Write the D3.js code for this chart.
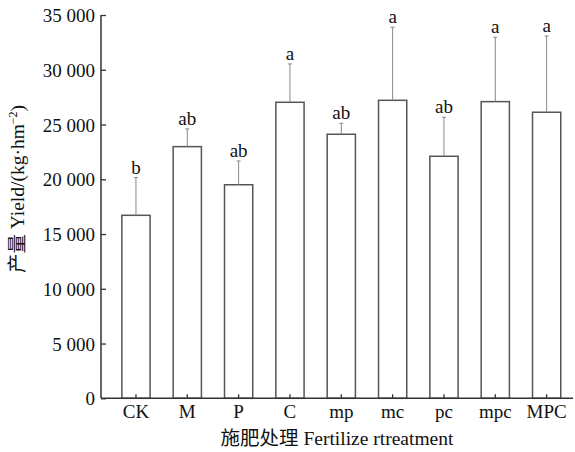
<!DOCTYPE html>
<html>
<head>
<meta charset="utf-8">
<script src="https://cdn.jsdelivr.net/npm/d3@7"></script>
<style>
  body { margin: 0; background: #fff; }
  text { font-family: "Liberation Serif", "Times New Roman", "Noto Sans CJK SC", serif; fill: #111; }
</style>
</head>
<body>
<svg id="chart" width="575" height="452"></svg>
<script>
var treatments = ["CK", "M", "P", "C", "mp", "mc", "pc", "mpc", "MPC"];
var yieldVals  = [16710, 22980, 19500, 27030, 24110, 27210, 22100, 27090, 26120];
var errTops    = [20150, 24600, 21670, 30530, 25110, 33880, 25660, 32970, 33080];
var sigLetters = ["b", "ab", "ab", "a", "ab", "a", "ab", "a", "a"];
var yTickVals  = [0, 5000, 10000, 15000, 20000, 25000, 30000, 35000];

var AXIS_COL = "#333";
var BAR_COL = "#555";
var ERR_COL = "#888";
var FONT_SZE = "19px";
var TITLE_SZE = "19.5px";

var svg = d3.select("#chart");
var plotL = 101, plotR = 573, plotT = 15, plotB = 398.3;

var xScale = d3.scaleBand()
    .domain(treatments)
    .range([110.3, 572.3])
    .paddingInner(0.45)
    .paddingOuter(0.225);

var yScale = d3.scaleLinear()
    .domain([0, 35000])
    .range([plotB, plotT]);

var fmt = function(d) { return d3.format(",")(d).replace(",", " "); };

// bars
svg.selectAll(".bar")
    .data(yieldVals)
    .enter()
    .append("rect")
    .attr("class", "bar")
    .attr("x", function(d, i) { return xScale(treatments[i]); })
    .attr("y", function(d) { return yScale(d); })
    .attr("width", xScale.bandwidth())
    .attr("height", function(d) { return plotB - yScale(d); })
    .style("fill", "white")
    .style("stroke", BAR_COL)
    .style("stroke-width", 1.5);

// error bars (upper only)
var cx = function(i) { return xScale(treatments[i]) + xScale.bandwidth() / 2; };

svg.selectAll(".err")
    .data(errTops)
    .enter()
    .append("line")
    .attr("class", "err")
    .attr("x1", function(d, i) { return cx(i); })
    .attr("x2", function(d, i) { return cx(i); })
    .attr("y1", function(d, i) { return yScale(yieldVals[i]); })
    .attr("y2", function(d) { return yScale(d); })
    .style("stroke", ERR_COL)
    .style("stroke-width", 1);

svg.selectAll(".cap")
    .data(errTops)
    .enter()
    .append("line")
    .attr("class", "cap")
    .attr("x1", function(d, i) { return cx(i) - 2; })
    .attr("x2", function(d, i) { return cx(i) + 2; })
    .attr("y1", function(d) { return yScale(d); })
    .attr("y2", function(d) { return yScale(d); })
    .style("stroke", ERR_COL)
    .style("stroke-width", 1);

// significance letters
svg.selectAll(".sig")
    .data(sigLetters)
    .enter()
    .append("text")
    .attr("class", "sig")
    .attr("x", function(d, i) { return cx(i); })
    .attr("y", function(d, i) { return yScale(errTops[i]) - 4; })
    .attr("text-anchor", "middle")
    .style("font-size", FONT_SZE)
    .text(function(d) { return d; });

// y axis
var yAxis = d3.axisRight(yScale)
    .tickValues(yTickVals)
    .tickSize(5)
    .tickFormat(fmt);

var gy = svg.append("g")
    .attr("transform", "translate(" + plotL + ",0)")
    .call(yAxis);
gy.select(".domain").remove();
gy.selectAll("line").style("stroke", AXIS_COL).style("stroke-width", 1.3);
gy.selectAll("text")
    .attr("x", -6)
    .attr("dy", "0.35em")
    .attr("text-anchor", "end")
    .style("font-size", FONT_SZE)
    .style("font-family", "'Liberation Serif', serif")
    .style("fill", "#111");

svg.append("line")
    .attr("x1", plotL).attr("x2", plotL)
    .attr("y1", plotT).attr("y2", plotB)
    .style("stroke", AXIS_COL)
    .style("stroke-width", 1.5);

// x axis
var xAxis = d3.axisTop(xScale).tickSize(4);
var gx = svg.append("g")
    .attr("transform", "translate(0," + plotB + ")")
    .call(xAxis);
gx.select(".domain").remove();
gx.selectAll("line").style("stroke", AXIS_COL).style("stroke-width", 1.3);
gx.selectAll("text")
    .attr("y", 19.5)
    .attr("dy", 0)
    .style("font-size", FONT_SZE)
    .style("font-family", "'Liberation Serif', serif")
    .style("fill", "#111");

svg.append("line")
    .attr("x1", plotL).attr("x2", plotR)
    .attr("y1", plotB).attr("y2", plotB)
    .style("stroke", AXIS_COL)
    .style("stroke-width", 1.5);

// axis titles
svg.append("text")
    .attr("x", (plotL + plotR) / 2)
    .attr("y", 445)
    .attr("text-anchor", "middle")
    .style("font-size", TITLE_SZE)
    .text("施肥处理 Fertilize rtreatment");

var yt = svg.append("text")
    .attr("transform", "translate(24,189) rotate(-90)")
    .attr("text-anchor", "middle")
    .style("font-size", TITLE_SZE);
yt.append("tspan").text("产量 Yield/(kg·hm");
yt.append("tspan").attr("dy", -7).style("font-size", "12px").text("−2");
yt.append("tspan").attr("dy", 7).text(")");
</script>
</body>
</html>
